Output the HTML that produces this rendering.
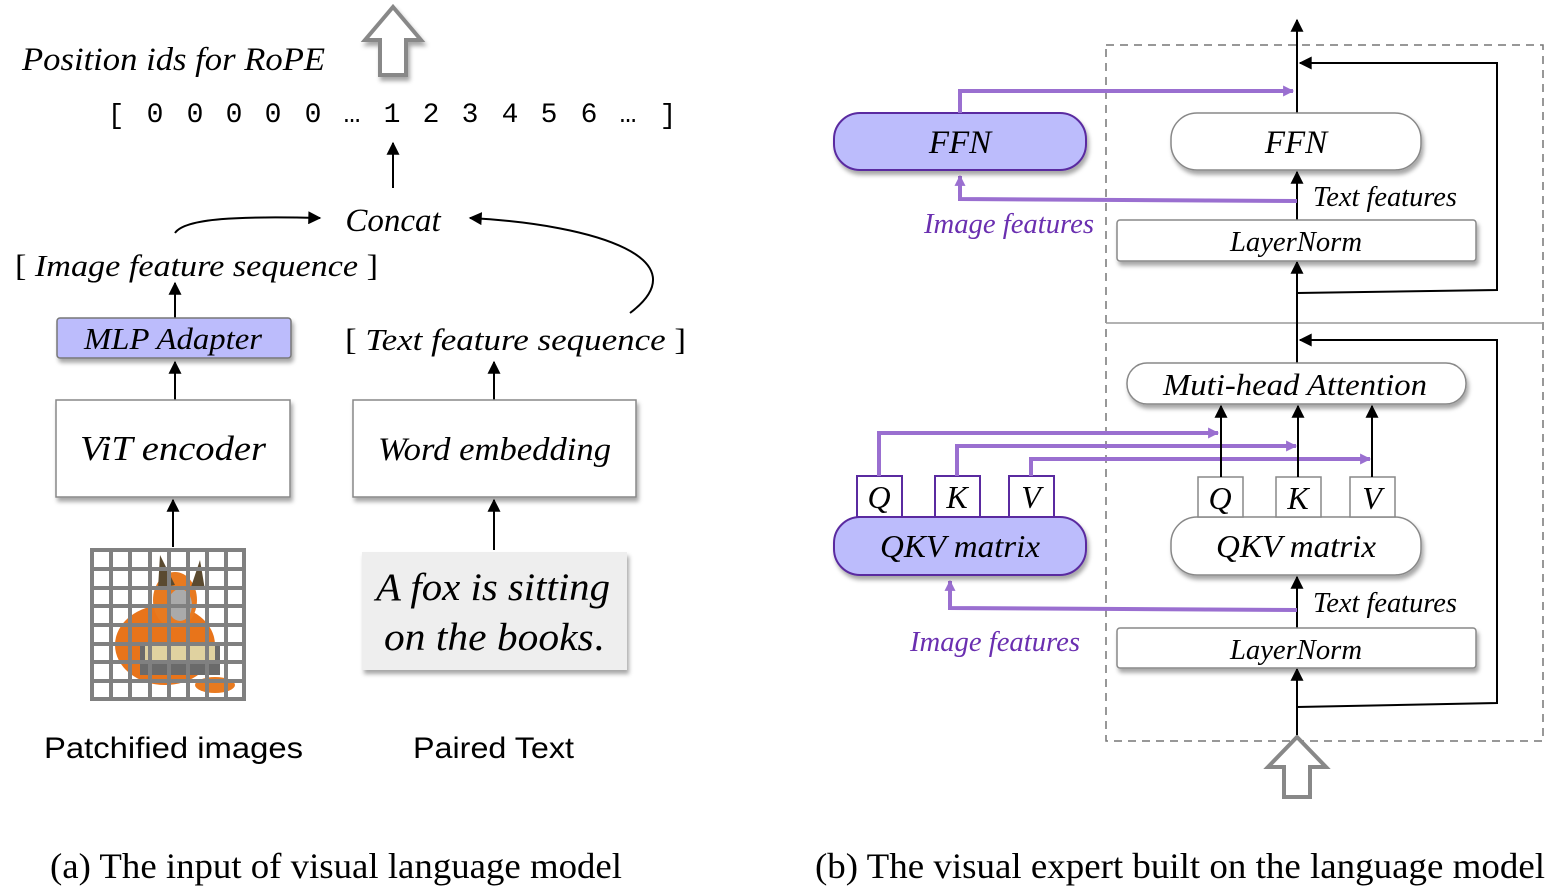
<!DOCTYPE html>
<html><head><style>html,body{margin:0;padding:0;background:#fff}svg{display:block}</style></head><body>
<svg width="1568" height="894" viewBox="0 0 1568 894" xmlns="http://www.w3.org/2000/svg">
<defs>
<marker id="ab" viewBox="0 0 10 10" refX="9" refY="5" markerWidth="18" markerHeight="13" orient="auto" markerUnits="userSpaceOnUse"><path d="M0,0 L10,5 L0,10 z" fill="#000"/></marker>
<marker id="ap" viewBox="0 0 10 10" refX="9" refY="5" markerWidth="16" markerHeight="11" orient="auto" markerUnits="userSpaceOnUse"><path d="M0,0 L10,5 L0,10 z" fill="#9a6fd0"/></marker>
<filter id="sh" x="-10%" y="-20%" width="130%" height="160%"><feDropShadow dx="2" dy="4" stdDeviation="2" flood-color="#000" flood-opacity="0.35"/></filter>
</defs>
<g font-family="Liberation Serif, serif" font-style="italic" fill="#000">
<!-- LEFT -->
<path d="M380,75 L380,40 L365,40 L393,7 L421,40 L406,40 L406,75 Z" fill="#fff" stroke="#888" stroke-width="4" filter="url(#sh)"/>
<text x="22" y="70" font-size="33" textLength="303" lengthAdjust="spacingAndGlyphs">Position ids for RoPE</text>
<g font-size="28" font-style="normal" font-family="Liberation Mono, monospace" text-anchor="middle">
<text x="116" y="123">[</text><text x="155" y="122">0</text><text x="195" y="122">0</text><text x="234" y="122">0</text><text x="273" y="122">0</text><text x="313" y="122">0</text><text x="352" y="122">…</text><text x="392" y="122">1</text><text x="431" y="122">2</text><text x="470" y="122">3</text><text x="510" y="122">4</text><text x="549" y="122">5</text><text x="589" y="122">6</text><text x="628" y="122">…</text><text x="668" y="123">]</text>
</g>
<line x1="393" y1="188" x2="393" y2="143" stroke="#000" stroke-width="2" marker-end="url(#ab)"/>
<text x="393" y="231" font-size="33" text-anchor="middle">Concat</text>
<path d="M175,233 C185,218 240,216 320,218" fill="none" stroke="#000" stroke-width="2" marker-end="url(#ab)"/>
<path d="M630,313 C700,260 600,225 470,218" fill="none" stroke="#000" stroke-width="2" marker-end="url(#ab)"/>
<text x="15" y="276" font-size="31" textLength="363" lengthAdjust="spacingAndGlyphs"><tspan font-style="normal">[</tspan> Image feature sequence <tspan font-style="normal">]</tspan></text>
<line x1="175" y1="318" x2="175" y2="283" stroke="#000" stroke-width="2" marker-end="url(#ab)"/>
<rect x="57" y="318" width="234" height="40" rx="3" fill="#bcbcfc" stroke="#777" stroke-width="1.5" filter="url(#sh)"/>
<text x="84" y="349" font-size="31" textLength="178" lengthAdjust="spacingAndGlyphs">MLP Adapter</text>
<line x1="175" y1="400" x2="175" y2="362" stroke="#000" stroke-width="2" marker-end="url(#ab)"/>
<rect x="56" y="400" width="234" height="97" fill="#fff" stroke="#888" stroke-width="1.5" filter="url(#sh)"/>
<text x="80" y="460" font-size="35" textLength="186" lengthAdjust="spacingAndGlyphs">ViT encoder</text>
<text x="345" y="350" font-size="31" textLength="341" lengthAdjust="spacingAndGlyphs"><tspan font-style="normal">[</tspan> Text  feature sequence <tspan font-style="normal">]</tspan></text>
<line x1="494" y1="400" x2="494" y2="362" stroke="#000" stroke-width="2" marker-end="url(#ab)"/>
<rect x="353" y="400" width="283" height="97" fill="#fff" stroke="#888" stroke-width="1.5" filter="url(#sh)"/>
<text x="378" y="460" font-size="33" textLength="233" lengthAdjust="spacingAndGlyphs">Word embedding</text>
<line x1="173" y1="547" x2="173" y2="500" stroke="#000" stroke-width="2" marker-end="url(#ab)"/>
<line x1="494" y1="550" x2="494" y2="500" stroke="#000" stroke-width="2" marker-end="url(#ab)"/>
<g>
<ellipse cx="165" cy="645" rx="50" ry="40" fill="#e8741a"/>
<ellipse cx="175" cy="600" rx="22" ry="28" fill="#e87a20"/>
<ellipse cx="180" cy="605" rx="12" ry="16" fill="#aaa"/>
<rect x="140" y="645" width="80" height="30" fill="#6a6a6a"/>
<rect x="145" y="645" width="70" height="16" fill="#e0d2a0"/>
<ellipse cx="215" cy="685" rx="20" ry="8" fill="#e87a20"/>
<path d="M160,555 L175,585 L158,588 Z M200,560 L190,590 L205,590 Z" fill="#5a4a30"/>
<path fill="none" stroke="#808080" stroke-width="4" d="M90,550 H246 M90,569 H246 M90,588 H246 M90,606 H246 M90,625 H246 M90,644 H246 M90,662 H246 M90,681 H246 M90,699 H246 M92,550 V700 M111,550 V700 M130,550 V700 M150,550 V700 M169,550 V700 M188,550 V700 M207,550 V700 M226,550 V700 M244,550 V700"/>
</g>
<rect x="362" y="552" width="265" height="118" fill="#eeeeee" filter="url(#sh)"/>
<text x="376" y="600" font-size="39" textLength="234" lengthAdjust="spacingAndGlyphs">A fox is sitting</text>
<text x="384" y="650" font-size="39" textLength="220" lengthAdjust="spacingAndGlyphs">on the books<tspan font-style="normal">.</tspan></text>
<text x="44" y="758" font-size="30" font-style="normal" font-family="Liberation Sans, sans-serif" textLength="259" lengthAdjust="spacingAndGlyphs">Patchified images</text>
<text x="413" y="758" font-size="30" font-style="normal" font-family="Liberation Sans, sans-serif" textLength="161" lengthAdjust="spacingAndGlyphs">Paired Text</text>
<text x="50" y="878" font-size="36" font-style="normal" textLength="572" lengthAdjust="spacingAndGlyphs">(a) The input of visual language model</text>
<text x="815" y="878" font-size="36" font-style="normal" textLength="730" lengthAdjust="spacingAndGlyphs">(b) The visual expert built on the language model</text>

<!-- RIGHT -->
<rect x="1106" y="45" width="437" height="696" fill="none" stroke="#777" stroke-width="1.5" stroke-dasharray="8,6"/>
<line x1="1106" y1="323" x2="1543" y2="323" stroke="#999" stroke-width="1.5"/>
<path d="M1284,797 L1284,767 L1268,767 L1297,737 L1326,767 L1310,767 L1310,797 Z" fill="#fff" stroke="#888" stroke-width="4"/>
<line x1="1297" y1="735" x2="1297" y2="669" stroke="#000" stroke-width="2" marker-end="url(#ab)"/>
<line x1="1297" y1="628" x2="1297" y2="577" stroke="#000" stroke-width="2" marker-end="url(#ab)"/>
<line x1="1297" y1="363" x2="1297" y2="262" stroke="#000" stroke-width="2" marker-end="url(#ab)"/>
<line x1="1297" y1="220" x2="1297" y2="172" stroke="#000" stroke-width="2" marker-end="url(#ab)"/>
<line x1="1297" y1="113" x2="1297" y2="20" stroke="#000" stroke-width="2" marker-end="url(#ab)"/>
<path d="M1297,707 L1497,703 L1497,340 L1300,340" fill="none" stroke="#000" stroke-width="2" marker-end="url(#ab)"/>
<path d="M1297,293 L1497,290 L1497,63 L1300,63" fill="none" stroke="#000" stroke-width="2" marker-end="url(#ab)"/>
<rect x="1117" y="628" width="359" height="40" rx="3" fill="#fff" stroke="#888" stroke-width="1.5" filter="url(#sh)"/>
<text x="1230" y="659" font-size="28" textLength="132" lengthAdjust="spacingAndGlyphs">LayerNorm</text>
<text x="1313" y="612" font-size="28" textLength="144" lengthAdjust="spacingAndGlyphs">Text features</text>
<path d="M1297,610 L950,608 L950,581" fill="none" stroke="#9a6fd0" stroke-width="4" marker-end="url(#ap)"/>
<text x="910" y="651" font-size="28" fill="#6a2fb0" textLength="170" lengthAdjust="spacingAndGlyphs">Image features</text>
<rect x="1171" y="517" width="250" height="58" rx="26" fill="#fff" stroke="#888" stroke-width="1.5" filter="url(#sh)"/>
<text x="1216" y="557" font-size="32" textLength="160" lengthAdjust="spacingAndGlyphs">QKV matrix</text>
<rect x="1198" y="477" width="45" height="40" fill="#fff" stroke="#888" stroke-width="1.5"/>
<rect x="1276" y="477" width="45" height="40" fill="#fff" stroke="#888" stroke-width="1.5"/>
<rect x="1350" y="477" width="45" height="40" fill="#fff" stroke="#888" stroke-width="1.5"/>
<text x="1220" y="509" font-size="32" text-anchor="middle">Q</text>
<text x="1298" y="509" font-size="32" text-anchor="middle">K</text>
<text x="1372" y="509" font-size="32" text-anchor="middle">V</text>
<rect x="834" y="517" width="252" height="58" rx="26" fill="#bcbcfc" stroke="#5a2aa0" stroke-width="2" filter="url(#sh)"/>
<text x="880" y="557" font-size="32" textLength="160" lengthAdjust="spacingAndGlyphs">QKV matrix</text>
<rect x="857" y="476" width="45" height="41" fill="#fff" stroke="#5a2aa0" stroke-width="2"/>
<rect x="935" y="476" width="45" height="41" fill="#fff" stroke="#5a2aa0" stroke-width="2"/>
<rect x="1009" y="476" width="45" height="41" fill="#fff" stroke="#5a2aa0" stroke-width="2"/>
<text x="879" y="508" font-size="32" text-anchor="middle">Q</text>
<text x="957" y="508" font-size="32" text-anchor="middle">K</text>
<text x="1031" y="508" font-size="32" text-anchor="middle">V</text>
<path d="M879,476 L879,433 L1218,433" fill="none" stroke="#9a6fd0" stroke-width="4" marker-end="url(#ap)"/>
<path d="M957,476 L957,446 L1296,446" fill="none" stroke="#9a6fd0" stroke-width="4" marker-end="url(#ap)"/>
<path d="M1031,476 L1031,459 L1370,459" fill="none" stroke="#9a6fd0" stroke-width="4" marker-end="url(#ap)"/>
<line x1="1221" y1="477" x2="1221" y2="406" stroke="#000" stroke-width="2" marker-end="url(#ab)"/>
<line x1="1298" y1="477" x2="1298" y2="406" stroke="#000" stroke-width="2" marker-end="url(#ab)"/>
<line x1="1372" y1="477" x2="1372" y2="406" stroke="#000" stroke-width="2" marker-end="url(#ab)"/>
<rect x="1127" y="363" width="339" height="41" rx="20" fill="#fff" stroke="#888" stroke-width="1.5" filter="url(#sh)"/>
<text x="1163" y="395" font-size="31" textLength="264" lengthAdjust="spacingAndGlyphs">Muti-head Attention</text>
<rect x="1117" y="220" width="359" height="41" rx="3" fill="#fff" stroke="#888" stroke-width="1.5" filter="url(#sh)"/>
<text x="1230" y="251" font-size="28" textLength="132" lengthAdjust="spacingAndGlyphs">LayerNorm</text>
<text x="1313" y="206" font-size="28" textLength="144" lengthAdjust="spacingAndGlyphs">Text features</text>
<path d="M1297,201 L960,199 L960,176" fill="none" stroke="#9a6fd0" stroke-width="4" marker-end="url(#ap)"/>
<text x="924" y="233" font-size="28" fill="#6a2fb0" textLength="170" lengthAdjust="spacingAndGlyphs">Image features</text>
<rect x="1171" y="113" width="250" height="57" rx="26" fill="#fff" stroke="#888" stroke-width="1.5" filter="url(#sh)"/>
<text x="1296" y="153" font-size="33" text-anchor="middle">FFN</text>
<rect x="834" y="113" width="252" height="57" rx="26" fill="#bcbcfc" stroke="#5a2aa0" stroke-width="2" filter="url(#sh)"/>
<text x="960" y="153" font-size="33" text-anchor="middle">FFN</text>
<path d="M960,113 L960,91 L1293,91" fill="none" stroke="#9a6fd0" stroke-width="4" marker-end="url(#ap)"/>
</g>
</svg>
</body></html>
